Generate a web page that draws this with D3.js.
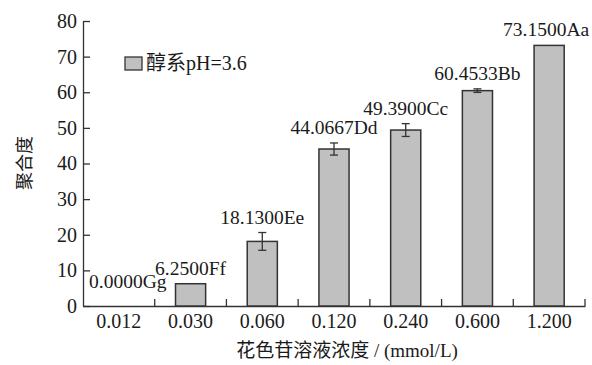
<!DOCTYPE html>
<html>
<head>
<meta charset="utf-8">
<script src="https://cdn.jsdelivr.net/npm/d3@7"></script>
<style>
  body { margin: 0; background: #fff; }
  svg text { font-family: "Liberation Serif", "Noto Sans CJK SC", serif; fill: #1a1a1a; }
</style>
</head>
<body>
<div id="chart"></div>
<script>
// data
var concentrations = ["0.012", "0.030", "0.060", "0.120", "0.240", "0.600", "1.200"];
var degree = [0, 6.25, 18.13, 44.0667, 49.39, 60.4533, 73.15];
var errors = [0, 0, 2.5, 1.7, 1.8, 0.5, 0];
var letters = ["Gg", "Ff", "Ee", "Dd", "Cc", "Bb", "Aa"];
var yTicks = [0, 10, 20, 30, 40, 50, 60, 70, 80];
var legendLabel = "醇系pH=3.6";

var W = 592, H = 365;
var margin = {top: 21, right: 7, bottom: 59, left: 83};
var width = W - margin.left - margin.right,
    height = H - margin.top - margin.bottom;

var svg = d3.select("#chart")
  .append("svg")
  .attr("width", W)
  .attr("height", H)
  .append("g")
  .attr("transform", "translate(" + margin.left + "," + margin.top + ")");

var x = d3.scaleBand()
  .domain(concentrations)
  .range([0, width])
  .paddingInner(0.58)
  .paddingOuter(0.29);

var y = d3.scaleLinear()
  .domain([0, 80])
  .range([height, 0]);

var ink = "#333";

// y axis, ticks pointing inward
var yAxis = svg.append("g")
  .call(d3.axisLeft(y).tickValues(yTicks).tickSizeInner(-7).tickSizeOuter(0).tickPadding(6));
yAxis.selectAll("text").style("font-size", "20px");
yAxis.selectAll("line, path").attr("stroke", ink).attr("stroke-width", 1.3);

// x axis: labels at band centres, ticks at band boundaries
var xAxis = svg.append("g")
  .attr("transform", "translate(0," + height + ")")
  .call(d3.axisBottom(x).tickSize(0).tickPadding(8));
xAxis.selectAll("text").style("font-size", "20px");
xAxis.select("path").attr("stroke", ink).attr("stroke-width", 1.3);

var step = x.step();
var bounds = concentrations.map(function(c) { return x(c) - x.paddingInner() * step / 2 + step; });
svg.selectAll(".btick")
  .data(bounds)
  .enter()
  .append("line")
  .attr("x1", function(d) { return d; })
  .attr("x2", function(d) { return d; })
  .attr("y1", height)
  .attr("y2", height - 7)
  .attr("stroke", ink)
  .attr("stroke-width", 1.3);

// bars
svg.selectAll(".bar")
  .data(degree)
  .enter()
  .append("rect")
  .attr("x", function(d, i) { return x(concentrations[i]); })
  .attr("y", function(d) { return y(d); })
  .attr("width", x.bandwidth())
  .attr("height", function(d) { return y(0) - y(d); })
  .attr("fill", "#c0c0c0")
  .attr("stroke", ink)
  .attr("stroke-width", 1.5)
  .style("display", function(d) { return d > 0 ? null : "none"; });

// error bars
var cx = function(i) { return x(concentrations[i]) + x.bandwidth() / 2; };
degree.forEach(function(v, i) {
  if (!errors[i]) return;
  var g = svg.append("g").attr("stroke", ink).attr("stroke-width", 1.3);
  g.append("line").attr("x1", cx(i)).attr("x2", cx(i))
    .attr("y1", y(v - errors[i])).attr("y2", y(v + errors[i]));
  [v - errors[i], v + errors[i]].forEach(function(e) {
    g.append("line").attr("x1", cx(i) - 4).attr("x2", cx(i) + 4)
      .attr("y1", y(e)).attr("y2", y(e));
  });
});

// value labels (zero label sits beside the axis, last one kept inside the frame)
svg.selectAll(".vlabel")
  .data(degree)
  .enter()
  .append("text")
  .attr("x", function(d, i) {
    if (d === 0) return cx(i) + 9;
    if (i === degree.length - 1) return cx(i) - 3;
    return cx(i);
  })
  .attr("y", function(d, i) { return d === 0 ? y(d) - 18 : y(d + errors[i]) - 9; })
  .attr("text-anchor", "middle")
  .style("font-size", "19.5px")
  .text(function(d, i) { return d.toFixed(4) + letters[i]; });

// legend
svg.append("rect")
  .attr("x", 125 - margin.left)
  .attr("y", 57 - margin.top)
  .attr("width", 17)
  .attr("height", 13)
  .attr("fill", "#c0c0c0")
  .attr("stroke", ink)
  .attr("stroke-width", 1.3);
svg.append("text")
  .attr("x", 146 - margin.left)
  .attr("y", 70 - margin.top)
  .style("font-size", "20px")
  .text(legendLabel);

// axis titles
svg.append("text")
  .attr("transform", "translate(" + (31 - margin.left) + "," + (163 - margin.top) + ") rotate(-90)")
  .attr("text-anchor", "middle")
  .style("font-size", "18px")
  .text("聚合度");

svg.append("text")
  .attr("x", 347 - margin.left)
  .attr("y", 357 - margin.top)
  .attr("text-anchor", "middle")
  .style("font-size", "19px")
  .text("花色苷溶液浓度 / (mmol/L)");
</script>
</body>
</html>
